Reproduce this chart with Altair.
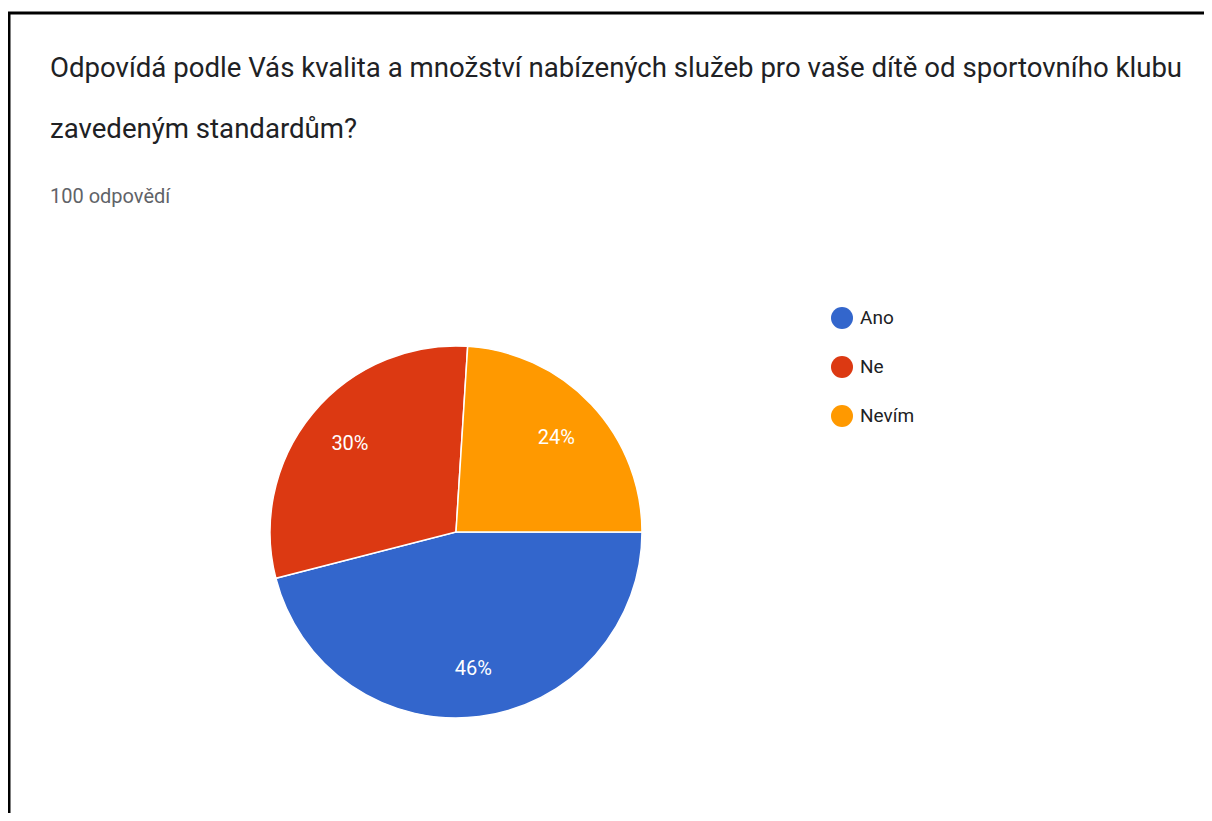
import math
import altair as alt
import pandas as pd

# ---- data ----
categories = ["Ano", "Ne", "Nevím"]
values = [46, 30, 24]
labels = ["46%", "30%", "24%"]
colors = ["#3366cc", "#dc3912", "#ff9900"]

title_lines = [
    "Odpovídá podle Vás kvalita a množství nabízených služeb pro vaše dítě od sportovního klubu",
    "zavedeným standardům?",
]
subtitle = "100 odpovědí"

df = pd.DataFrame({
    "category": categories,
    "value": values,
    "label": labels,
    "order": list(range(len(categories))),
})

W, H = 1196, 805
CX, CY = 448, 524
R = 186

theta_scale = alt.Scale(range=[math.pi / 2, math.pi / 2 + 2 * math.pi])

base = alt.Chart(df).encode(
    theta=alt.Theta("value:Q", stack=True, scale=theta_scale),
    order=alt.Order("order:Q"),
)

pie = base.mark_arc(stroke="white", strokeWidth=1.5, outerRadius=R).encode(
    x=alt.value(CX),
    y=alt.value(CY),
    color=alt.Color(
        "category:N",
        scale=alt.Scale(domain=categories, range=colors),
        sort=categories,
        legend=alt.Legend(
            orient="none",
            legendX=823,
            legendY=299,
            title=None,
            symbolType="circle",
            symbolSize=484,
            symbolStrokeWidth=0,
            labelFontSize=19,
            labelFont="Roboto",
            labelColor="#202124",
            labelOffset=7,
            rowPadding=27,
            padding=0,
        ),
    ),
)

pie_text = base.mark_text(
    font="Roboto", fontSize=20, color="white", align="center", baseline="middle",
    radius=R * 0.74,
).encode(
    x=alt.value(CX),
    y=alt.value(CY),
    text="label:N",
)

one = pd.DataFrame({"k": [0]})

title1 = alt.Chart(one).mark_text(
    font="Roboto", fontSize=27.6, color="#202124", align="left", baseline="alphabetic"
).encode(x=alt.value(42), y=alt.value(69), text=alt.value(title_lines[0]))

title2 = alt.Chart(one).mark_text(
    font="Roboto", fontSize=27.6, color="#202124", align="left", baseline="alphabetic"
).encode(x=alt.value(42), y=alt.value(130), text=alt.value(title_lines[1]))

sub = alt.Chart(one).mark_text(
    font="Roboto", fontSize=20, color="#5f6368", align="left", baseline="alphabetic"
).encode(x=alt.value(42), y=alt.value(195), text=alt.value(subtitle))

top_border = alt.Chart(one).mark_rule(color="black", strokeWidth=3).encode(
    x=alt.value(0), x2=alt.value(W), y=alt.value(5)
)
left_border = alt.Chart(one).mark_rule(color="black", strokeWidth=3).encode(
    x=alt.value(1), y=alt.value(4), y2=alt.value(H)
)

chart = alt.layer(
    pie, pie_text, title1, title2, sub, top_border, left_border
).properties(
    width=W,
    height=H,
    autosize=alt.AutoSizeParams(type="none"),
    padding={"left": 0, "top": 0, "right": 0, "bottom": 0},
    background="white",
).configure_view(stroke=None)

chart.save("out.html", embed_options={"renderer": "svg", "actions": False})
